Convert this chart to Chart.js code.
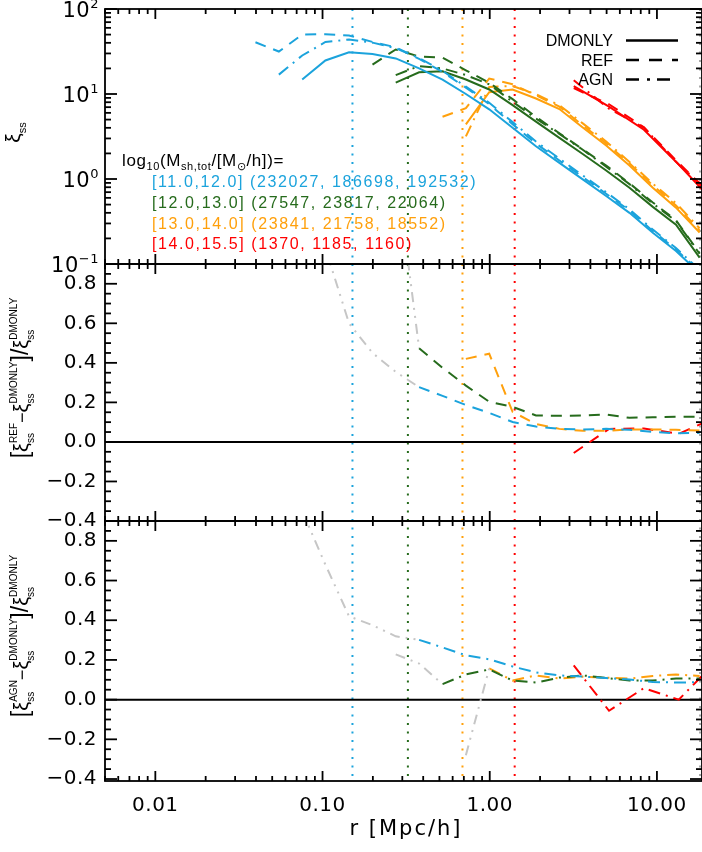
<!DOCTYPE html>
<html>
<head>
<meta charset="utf-8">
<script src="https://cdn.jsdelivr.net/npm/chart.js@4.4.0/dist/chart.umd.min.js"></script>
<style>
  html, body { margin: 0; padding: 0; background: #fff; }
</style>
</head>
<body>
<canvas id="myChart" width="702" height="852"></canvas>
<script>
// radial bins (Mpc/h), shared by the three lower mass bins
var rBins = [0.0397, 0.0548, 0.0756, 0.104, 0.144, 0.199, 0.274, 0.378, 0.522, 0.720,
             0.993, 1.37, 1.89, 2.61, 3.60, 4.97, 6.85, 9.45, 13.0, 18.0];
// the most massive bin uses coarser bins
var rBinsRed = [3.18, 5.17, 8.36, 13.5, 21.9];

// top panel: xi_ss
var xiCyanDM  = [null, null, 14.8, 24.8, 31.0, 29.5, 26.2, 20.0, 14.8, 10.0, 6.6, 4.0, 2.43, 1.55, 0.99, 0.63, 0.40, 0.233, 0.142, 0.078];
var xiCyanREF = [40.6, 31.6, 50.0, 50.5, 48.8, 41.0, 35.5, 25.9, 18.2, 11.9, 7.6, 4.4, 2.62, 1.65, 1.05, 0.67, 0.425, 0.245, 0.148, 0.082];
var xiCyanAGN = [null, 16.9, 28.4, 40.9, 43.8, 40.2, 34.6, 26.4, 18.7, 12.2, 7.9, 4.67, 2.76, 1.74, 1.10, 0.70, 0.44, 0.254, 0.154, 0.085];

var xiGreenDM  = [null, null, null, null, null, null, 13.6, 18.0, 18.5, 14.8, 11.3, 7.4, 4.74, 3.05, 1.97, 1.26, 0.79, 0.47, 0.29, 0.119];
var xiGreenREF = [null, null, null, null, null, 22.2, 33.4, 27.6, 26.7, 19.0, 13.6, 8.7, 5.38, 3.45, 2.23, 1.44, 0.89, 0.53, 0.327, 0.134];
var xiGreenAGN = [null, null, null, null, null, null, 16.7, 21.3, 20.0, 16.7, 13.0, 8.1, 5.15, 3.39, 2.21, 1.40, 0.87, 0.515, 0.32, 0.132];

var xiOrangeDM  = [null, null, null, null, null, null, null, null, null, 4.4, 10.5, 11.3, 8.85, 6.66, 4.04, 2.48, 1.44, 0.79, 0.46, 0.235];
var xiOrangeREF = [null, null, null, null, null, null, null, null, 5.4, 6.8, 15.2, 13.0, 9.66, 7.1, 4.27, 2.62, 1.53, 0.84, 0.488, 0.249];
var xiOrangeAGN = [null, null, null, null, null, null, null, null, null, 3.17, 12.1, 12.4, 9.93, 7.37, 4.51, 2.76, 1.59, 0.88, 0.52, 0.263];

var xiRedDM  = [12.4, 7.1, 3.8, 1.48, 0.54];
var xiRedREF = [11.7, 7.57, 4.06, 1.54, 0.60];
var xiRedAGN = [14.5, 6.7, 4.02, 1.48, 0.64];

// middle panel: (REF - DMONLY) / DMONLY
var refCyanLow   = [null, null, null, 0.98, 0.60, 0.45, 0.354, 0.277];
var refCyan      = [null, null, null, null, null, null, null, 0.277, 0.233, 0.187, 0.147, 0.101, 0.078, 0.066, 0.063, 0.066, 0.061, 0.051, 0.043, 0.046];
var refGreenLow  = [null, null, null, null, null, null, 1.40, 0.474];
var refGreen     = [null, null, null, null, null, null, null, 0.474, 0.375, 0.285, 0.203, 0.177, 0.134, 0.132, 0.134, 0.139, 0.122, 0.125, 0.127, 0.128];
var refOrange    = [null, null, null, null, null, null, null, null, null, 0.42, 0.446, 0.152, 0.091, 0.066, 0.056, 0.056, 0.063, 0.063, 0.061, 0.058];
var refRed       = [-0.056, 0.066, 0.068, 0.041, 0.12];

// bottom panel: (AGN - DMONLY) / DMONLY
var agnCyanLow   = [null, null, 0.95, 0.68, 0.42, 0.375, 0.319, 0.301];
var agnCyan      = [null, null, null, null, null, null, null, 0.301, 0.263, 0.223, 0.203, 0.167, 0.137, 0.122, 0.116, 0.109, 0.101, 0.089, 0.086, 0.088];
var agnGreenLow  = [null, null, null, null, null, null, 0.228, 0.182, 0.078];
var agnGreen     = [null, null, null, null, null, null, null, null, 0.078, 0.127, 0.152, 0.096, 0.086, 0.111, 0.122, 0.109, 0.096, 0.096, 0.106, 0.106];
var agnOrangeLow = [null, null, null, null, null, null, null, null, null, -0.28, 0.157];
var agnOrange    = [null, null, null, null, null, null, null, null, null, null, 0.157, 0.096, 0.122, 0.106, 0.116, 0.111, 0.106, 0.119, 0.127, 0.119];
var agnRed       = [0.172, -0.056, 0.058, 0.0, 0.18];

// vertical dotted markers
var cutR = [0.151, 0.324, 0.687, 1.41, 18.1];

// labels
var massBins = ['[11.0,12.0]', '[12.0,13.0]', '[13.0,14.0]', '[14.0,15.5]'];
var haloCounts = [[232027, 186698, 192532], [27547, 23817, 22064], [23841, 21758, 18552], [1370, 1185, 1160]];
var modelNames = ['DMONLY', 'REF', 'AGN'];
var xTickValues = [0.01, 0.1, 1, 10];
var xTickLabels = ['0.01', '0.10', '1.00', '10.00'];
var topTickValues = [0.1, 1, 10, 100];
var topTickExp = ['\u22121', '0', '1', '2'];
var ratioTickValues = [-0.4, -0.2, 0.0, 0.2, 0.4, 0.6, 0.8];

var cyan = '#1ba3dc';
var green = '#266b1c';
var orange = '#ffa00c';
var red = '#ff0000';
var gray = '#c6c6c6';
var massColors = [cyan, green, orange, red];
var cutColors = [cyan, green, orange, red, '#a8a8a8'];

var solid = [];
var dashed = [11, 8];
var dashDot = [12, 6, 2, 6];
var dashDotDot = [10, 6, 2, 6, 2, 6];

var sansFont = '"Liberation Sans", Arial, sans-serif';
var tickFont = '"DejaVu Sans", sans-serif';

function series(xs, ys, axis, color, dash) {
    var pts = [];
    for (var i = 0; i < ys.length; i++) {
        if (ys[i] !== null) pts.push({x: xs[i], y: ys[i]});
    }
    return {
        data: pts, yAxisID: axis, xAxisID: 'x',
        borderColor: color, borderWidth: 2, borderDash: dash,
        pointRadius: 0, fill: false, tension: 0
    };
}

var datasets = [
    series(rBins, xiCyanDM, 'yTop', cyan, solid),
    series(rBins, xiCyanREF, 'yTop', cyan, dashed),
    series(rBins, xiCyanAGN, 'yTop', cyan, dashDot),
    series(rBins, xiGreenDM, 'yTop', green, solid),
    series(rBins, xiGreenREF, 'yTop', green, dashed),
    series(rBins, xiGreenAGN, 'yTop', green, dashDot),
    series(rBins, xiOrangeDM, 'yTop', orange, solid),
    series(rBins, xiOrangeREF, 'yTop', orange, dashed),
    series(rBins, xiOrangeAGN, 'yTop', orange, dashDot),
    series(rBinsRed, xiRedDM, 'yTop', red, solid),
    series(rBinsRed, xiRedREF, 'yTop', red, dashed),
    series(rBinsRed, xiRedAGN, 'yTop', red, dashDot),

    series(rBins, refCyanLow, 'yMid', gray, dashDotDot),
    series(rBins, refGreenLow, 'yMid', gray, dashDotDot),
    series(rBins, refCyan, 'yMid', cyan, dashed),
    series(rBins, refGreen, 'yMid', green, dashed),
    series(rBins, refOrange, 'yMid', orange, dashed),
    series(rBinsRed, refRed, 'yMid', red, dashed),

    series(rBins, agnCyanLow, 'yBot', gray, dashDotDot),
    series(rBins, agnGreenLow, 'yBot', gray, dashDotDot),
    series(rBins, agnOrangeLow, 'yBot', gray, dashDotDot),
    series(rBins, agnCyan, 'yBot', cyan, dashDot),
    series(rBins, agnGreen, 'yBot', green, dashDot),
    series(rBins, agnOrange, 'yBot', orange, dashDot),
    series(rBinsRed, agnRed, 'yBot', red, dashDot)
];

// ---- text helpers (sub/superscripts drawn as real text) ----
function partWidth(ctx, p, family) {
    ctx.font = p.size + 'px ' + family;
    if (p.sup !== undefined || p.sub !== undefined) {
        var a = p.sup ? ctx.measureText(p.sup).width : 0;
        var b = p.sub ? ctx.measureText(p.sub).width : 0;
        return Math.max(a, b);
    }
    return ctx.measureText(p.t).width;
}

function drawRich(ctx, parts, x, y, o) {
    ctx.save();
    ctx.translate(x, y);
    if (o.rotate) ctx.rotate(o.rotate);
    ctx.letterSpacing = (o.spacing || 0) + 'px';
    ctx.textBaseline = 'alphabetic';
    ctx.textAlign = 'left';
    var w = 0;
    parts.forEach(function (p) { w += partWidth(ctx, p, o.family); });
    var cx = o.align === 'center' ? -w / 2 : (o.align === 'right' ? -w : 0);
    parts.forEach(function (p) {
        ctx.font = p.size + 'px ' + o.family;
        ctx.fillStyle = p.color || o.color || '#000';
        if (p.sup !== undefined || p.sub !== undefined) {
            if (p.sup) ctx.fillText(p.sup, cx, p.supDy);
            if (p.sub) ctx.fillText(p.sub, cx, p.subDy);
        } else {
            ctx.fillText(p.t, cx, p.dy || 0);
        }
        cx += partWidth(ctx, p, o.family);
    });
    ctx.restore();
}

function xiPart(sup, size) {
    return [{t: '\u03be', size: size}, {sup: sup, sub: 'ss', size: Math.round(size * 0.5), supDy: -11, subDy: 6}];
}

function line(ctx, x1, y1, x2, y2) {
    ctx.beginPath();
    ctx.moveTo(x1, y1);
    ctx.lineTo(x2, y2);
    ctx.stroke();
}

var idlFrame = {
    id: 'idlFrame',
    beforeDatasetsDraw: function (chart) {
        var ctx = chart.ctx, a = chart.chartArea, x = chart.scales.x;
        ctx.save();
        // vertical dotted lines through all panels
        ctx.lineWidth = 2;
        ctx.setLineDash([2, 6.5]);
        cutR.forEach(function (r, i) {
            var px = x.getPixelForValue(r);
            ctx.strokeStyle = cutColors[i];
            line(ctx, px, a.top, px, a.bottom);
        });
        ctx.setLineDash([]);
        // zero lines
        ctx.strokeStyle = '#000';
        ctx.lineWidth = 2;
        ['yMid', 'yBot'].forEach(function (id) {
            var py = chart.scales[id].getPixelForValue(0);
            line(ctx, a.left, py, a.right, py);
        });
        ctx.restore();
    },
    afterDatasetsDraw: function (chart) {
        var ctx = chart.ctx, a = chart.chartArea, x = chart.scales.x;
        ctx.save();
        ctx.strokeStyle = '#000';
        ctx.fillStyle = '#000';
        ctx.lineWidth = 1.8;
        ['yTop', 'yMid', 'yBot'].forEach(function (id) {
            var s = chart.scales[id];
            var top = s.top, bot = s.bottom;
            ctx.strokeRect(a.left, top, a.right - a.left, bot - top);
            // x ticks, pointing into the panel
            for (var e = -3; e <= 1; e++) {
                for (var m = 1; m <= 9; m++) {
                    var v = m * Math.pow(10, e);
                    if (v < x.min || v > x.max) continue;
                    var px = x.getPixelForValue(v);
                    var len = m === 1 ? 10 : 5;
                    line(ctx, px, top, px, top + len);
                    line(ctx, px, bot, px, bot - len);
                }
            }
            // y ticks on both sides
            var ticks = [];
            if (id === 'yTop') {
                for (var d = -1; d <= 2; d++) {
                    for (var mm = 1; mm <= 9; mm++) {
                        var vv = mm * Math.pow(10, d);
                        if (vv >= s.min && vv <= s.max) ticks.push([vv, mm === 1]);
                    }
                }
            } else {
                for (var k = -9; k <= 18; k++) {
                    var lv = k * 0.05;
                    if (lv >= s.min - 1e-9 && lv <= s.max + 1e-9) ticks.push([lv, k % 4 === 0]);
                }
            }
            ticks.forEach(function (t) {
                var py = s.getPixelForValue(t[0]);
                var len = t[1] ? 12 : 6;
                line(ctx, a.left, py, a.left + len, py);
                line(ctx, a.right, py, a.right - len, py);
            });
        });

        // tick labels
        ctx.letterSpacing = '0.5px';
        ctx.textBaseline = 'middle';
        ctx.textAlign = 'center';
        ctx.font = '20px ' + tickFont;
        xTickValues.forEach(function (v, i) {
            ctx.fillText(xTickLabels[i], x.getPixelForValue(v), a.bottom + 25);
        });
        ctx.textAlign = 'right';
        ['yMid', 'yBot'].forEach(function (id) {
            var s = chart.scales[id];
            ratioTickValues.forEach(function (v) {
                if (v < s.min - 1e-9) return;
                var txt = (v < 0 ? '\u2212' : '') + Math.abs(v).toFixed(1);
                ctx.fillText(txt, a.left - 8, s.getPixelForValue(v));
            });
        });
        var yt = chart.scales.yTop;
        topTickValues.forEach(function (v, i) {
            var py = yt.getPixelForValue(v);
            drawRich(ctx, [{t: '10', size: 21}, {t: topTickExp[i], size: 13, dy: -9}],
                     a.left - 6, py + 7.5, {family: tickFont, align: 'right', spacing: 0.5});
        });

        // axis titles
        ctx.textAlign = 'center';
        ctx.textBaseline = 'middle';
        ctx.letterSpacing = '2px';
        ctx.font = '21px ' + tickFont;
        ctx.fillText('r [Mpc/h]', 406, 830);
        ctx.letterSpacing = '0px';

        var rot = -Math.PI / 2;
        drawRich(ctx, xiPart('', 21), 20, (yt.top + yt.bottom) / 2 - 4, {family: sansFont, align: 'center', rotate: rot});
        var ym = chart.scales.yMid;
        drawRich(ctx, [{t: '[', size: 23}].concat(xiPart('REF', 20), [{t: '\u2212', size: 18}], xiPart('DMONLY', 20),
                 [{t: ']/', size: 23}], xiPart('DMONLY', 20)),
                 28, 378, {family: sansFont, align: 'center', rotate: rot});
        var yb = chart.scales.yBot;
        drawRich(ctx, [{t: '[', size: 23}].concat(xiPart('AGN', 20), [{t: '\u2212', size: 18}], xiPart('DMONLY', 20),
                 [{t: ']/', size: 23}], xiPart('DMONLY', 20)),
                 28, 636, {family: sansFont, align: 'center', rotate: rot});

        // model legend (top right)
        var dashes = [solid, [13, 10], [13, 8, 3, 7]];
        modelNames.forEach(function (name, i) {
            var by = 46 + i * 19.5;
            ctx.font = '16px ' + sansFont;
            ctx.textAlign = 'right';
            ctx.textBaseline = 'alphabetic';
            ctx.fillStyle = '#000';
            ctx.fillText(name, 613, by);
            ctx.lineWidth = 2.5;
            ctx.setLineDash(dashes[i]);
            line(ctx, 626, by - 5.5, 678, by - 5.5);
            ctx.setLineDash([]);
        });

        // mass bin legend
        drawRich(ctx, [{t: 'log', size: 17}, {t: '10', size: 11, dy: 4}, {t: '(M', size: 17},
                       {t: 'sh,tot', size: 11, dy: 4}, {t: '/[M', size: 17}, {t: '\u2299', size: 11, dy: 4},
                       {t: '/h])=', size: 17}],
                 122, 166, {family: sansFont, align: 'left', spacing: 0.6});
        massBins.forEach(function (b, i) {
            var c = haloCounts[i];
            drawRich(ctx, [{t: b + ' (' + c[0] + ', ' + c[1] + ', ' + c[2] + ')', size: 16, color: massColors[i]}],
                     152, 187 + i * 20.8, {family: sansFont, align: 'left', spacing: 1.6});
        });
        ctx.restore();
    }
};

new Chart('myChart', {
    type: 'line',
    data: {datasets: datasets},
    options: {
        responsive: false,
        animation: false,
        layout: {padding: {top: 9, left: 0, right: 0, bottom: 0}},
        plugins: {legend: {display: false}, tooltip: {enabled: false}},
        scales: {
            x: {
                type: 'logarithmic', position: 'bottom', min: 0.005, max: 18.6,
                grid: {display: false, drawTicks: false}, border: {display: false},
                ticks: {display: false},
                afterFit: function (s) { s.height = 71; }
            },
            yTop: {
                type: 'logarithmic', position: 'left', min: 0.1, max: 100,
                stack: 'panels', stackWeight: 255, weight: 3,
                grid: {display: false, drawTicks: false}, border: {display: false},
                ticks: {display: false},
                afterFit: function (s) { s.width = 105; }
            },
            yMid: {
                type: 'linear', position: 'left', min: -0.4, max: 0.9,
                stack: 'panels', stackWeight: 257, weight: 2,
                grid: {display: false, drawTicks: false}, border: {display: false},
                ticks: {display: false},
                afterFit: function (s) { s.width = 105; }
            },
            yBot: {
                type: 'linear', position: 'left', min: -0.41, max: 0.9,
                stack: 'panels', stackWeight: 260, weight: 1,
                grid: {display: false, drawTicks: false}, border: {display: false},
                ticks: {display: false},
                afterFit: function (s) { s.width = 105; }
            }
        }
    },
    plugins: [idlFrame]
});
</script>
</body>
</html>
